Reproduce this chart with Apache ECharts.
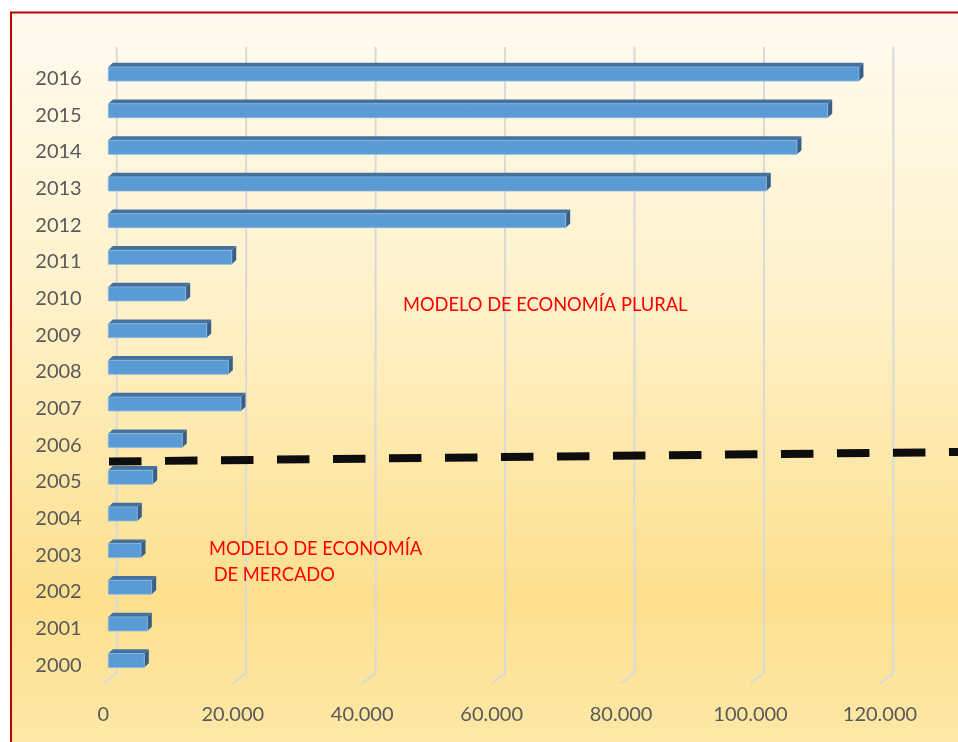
<!DOCTYPE html>
<html>
<head>
<meta charset="utf-8">
<script src="https://cdn.jsdelivr.net/npm/echarts@6/dist/echarts.min.js"></script>
<style>
html,body{margin:0;padding:0;background:#fff;}
#chart{width:958px;height:742px;}
</style>
</head>
<body>
<div id="chart"></div>
<script>
// Data
const years = ['2000','2001','2002','2003','2004','2005','2006','2007','2008','2009','2010','2011','2012','2013','2014','2015','2016'];
const values = [5560, 6030, 6700, 5050, 4480, 6860, 11430, 20500, 18540, 15200, 11960, 19070, 70670, 101660, 106400, 111150, 115980];
const xTicks = [0, 20000, 40000, 60000, 80000, 100000, 120000];
const noteUpper = 'MODELO DE ECONOMÍA PLURAL';
const noteLower = ['MODELO DE ECONOMÍA', ' DE MERCADO'];

const FONT = 'Lato, "Open Sans", sans-serif';
const chart = echarts.init(document.getElementById('chart'), null, {renderer: 'canvas'});

function fmt(v) {
  return String(v).replace(/\B(?=(\d{3})+(?!\d))/g, '.');
}

const option = {
  backgroundColor: '#ffffff',
  animation: false,
  grid: { left: 103.3, top: 60.2, width: 841.4, height: 623.2, containLabel: false },
  xAxis: {
    type: 'value', min: 0, max: 130000, interval: 20000,
    axisLine: {show: false}, axisTick: {show: false}, splitLine: {show: false},
    axisLabel: { color: '#595959', fontSize: 20, fontFamily: FONT, margin: 21.5,
      showMaxLabel: false,
      formatter: v => (xTicks.indexOf(v) >= 0 ? fmt(v) : '') }
  },
  yAxis: {
    type: 'category', data: years,
    axisLine: {show: false}, axisTick: {show: false}, splitLine: {show: false},
    axisLabel: { color: '#595959', fontSize: 20, fontFamily: FONT, margin: 21.6 }
  },
  graphic: [
    { type: 'rect', z: -10, silent: true,
      shape: { x: 11, y: 12.5, width: 980, height: 780 },
      style: {
        fill: new echarts.graphic.LinearGradient(0, 0, 0, 1, [
          {offset: 0, color: '#FFFBF0'},
          {offset: 0.35, color: '#FFF2CC'},
          {offset: 0.75, color: '#FDE08E'},
          {offset: 1, color: '#FEEBB0'}
        ]),
        stroke: '#C00000', lineWidth: 2
      }
    },
    { type: 'line', z: 100, silent: true,
      shape: { x1: 109, y1: 461.5, x2: 960, y2: 452 },
      style: { stroke: '#0d0d0d', lineWidth: 8, lineDash: [32.5, 23.5] }
    },
    { type: 'text', z: 100, left: 403, top: 296, silent: true,
      style: { text: noteUpper, fill: '#FF0000', font: '18.3px ' + FONT } },
    { type: 'text', z: 100, left: 209, top: 535.5, silent: true,
      style: { text: noteLower.join('\n'), fill: '#FF0000', font: '18.3px ' + FONT, lineHeight: 26.5 } }
  ],
  series: [
    {
      type: 'custom', z: 1, clip: false,
      data: xTicks.map(v => [v, 0]),
      renderItem: function (params, api) {
        const cs = params.coordSys;
        const x = api.coord([api.value(0), 0])[0];
        const bx = x + 13.4;
        const yTop = cs.y - 13.2;
        const yBot = cs.y + cs.height - 10.4;
        return {
          type: 'polyline',
          shape: { points: [[bx, yTop], [bx, yBot], [x, yBot + 10.5]] },
          style: { stroke: '#D9D9D9', lineWidth: 2, fill: null }
        };
      }
    },
    {
      type: 'custom', z: 2, clip: false,
      data: values.map((v, i) => [v, i]),
      renderItem: function (params, api) {
        const p0 = api.coord([0, api.value(1)]);
        const p1 = api.coord([api.value(0), api.value(1)]);
        const x0 = p0[0] + 5, x1 = p1[0] + 5;
        const yc = p0[1] - 4.5;
        const h = 14, dx = 4.5, dy = 4.2;
        const yt = yc - h / 2, yb = yc + h / 2;
        return {
          type: 'group',
          children: [
            { type: 'polygon',
              shape: { points: [[x0, yt], [x1, yt], [x1 + dx, yt - dy], [x0 + dx, yt - dy]] },
              style: { fill: '#44729F' } },
            { type: 'polygon',
              shape: { points: [[x1, yt], [x1 + dx, yt - dy], [x1 + dx, yb - dy], [x1, yb]] },
              style: { fill: '#385F88' } },
            { type: 'rect',
              shape: { x: x0, y: yt, width: x1 - x0, height: h },
              style: { fill: '#5B9BD5', stroke: '#8DB8E2', lineWidth: 0.8 } }
          ]
        };
      }
    }
  ]
};
chart.setOption(option);
</script>
</body>
</html>
